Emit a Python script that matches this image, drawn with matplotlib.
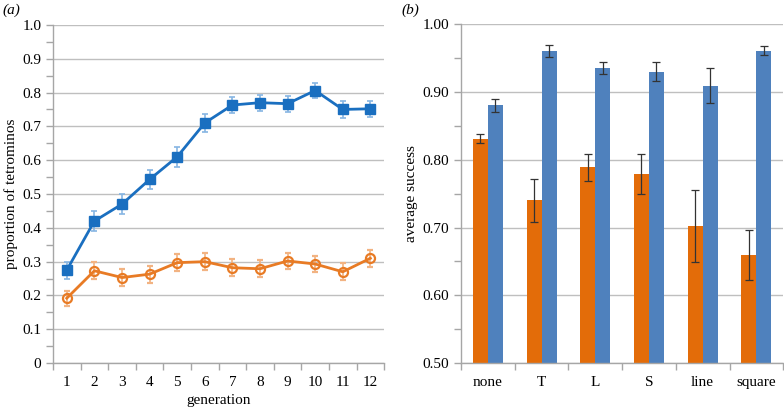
import matplotlib.pyplot as plt
import numpy as np
from matplotlib.ticker import MultipleLocator, FixedLocator, NullFormatter, FuncFormatter

plt.rcParams['font.family'] = ['Liberation Serif', 'DejaVu Serif']

# panel (a): proportion of tetrominos per generation
generations = list(range(1, 13))
blue_line = [0.275, 0.42, 0.47, 0.543, 0.61, 0.71, 0.763, 0.77, 0.767, 0.806, 0.75, 0.752]
blue_err = [0.025, 0.03, 0.03, 0.029, 0.03, 0.026, 0.024, 0.024, 0.024, 0.022, 0.024, 0.024]
orange_line = [0.192, 0.273, 0.253, 0.263, 0.297, 0.300, 0.282, 0.279, 0.302, 0.293, 0.270, 0.310]
orange_err = [0.022, 0.025, 0.025, 0.025, 0.025, 0.025, 0.025, 0.025, 0.025, 0.025, 0.025, 0.025]

# panel (b): average success per shape
shapes = ["none", "T", "L", "S", "line", "square"]
orange_bars = [0.831, 0.740, 0.789, 0.779, 0.702, 0.660]
orange_bar_err = [0.007, 0.032, 0.020, 0.030, 0.053, 0.037]
blue_bars = [0.880, 0.960, 0.935, 0.930, 0.909, 0.961]
blue_bar_err = [0.009, 0.009, 0.009, 0.014, 0.026, 0.007]

grid_c = "#bfbfbf"
tick_c = "#a6a6a6"
fs = 11

fig = plt.figure(figsize=(7.84, 4.08), dpi=100)
ax1 = fig.add_axes([0.0676, 0.110, 0.4224, 0.829])
ax2 = fig.add_axes([0.588, 0.110, 0.411, 0.831])

for ax in (ax1, ax2):
    for s in ("top", "right"):
        ax.spines[s].set_visible(False)
    for s in ("left", "bottom"):
        ax.spines[s].set_color(tick_c)
        ax.spines[s].set_linewidth(1.0)
    ax.yaxis.grid(True, color=grid_c, linewidth=1.0)
    ax.set_axisbelow(True)
    ax.tick_params(which="both", color=tick_c, labelsize=fs, length=5, width=1)
    ax.tick_params(axis="x", which="major", length=0, pad=9)
    ax.tick_params(axis="x", which="minor", length=5)

# ---- panel a
ax1.errorbar(generations, blue_line, yerr=blue_err, color="#1a6fc0", lw=2,
             marker="s", ms=7, mfc="#1a6fc0", mec="#1a6fc0",
             ecolor="#86b5e3", elinewidth=1.2, capsize=2.5, capthick=1.2, zorder=3)
ax1.errorbar(generations, orange_line, yerr=orange_err, color="#e87b25", lw=2,
             marker="o", ms=6.5, mfc="none", mec="#e87b25", mew=1.6,
             ecolor="#f2b382", elinewidth=1.2, capsize=2.5, capthick=1.2, zorder=3)
ax1.set_xlim(0.5, 12.5)
ax1.set_ylim(0, 1.0)
ax1.set_xticks(generations)
ax1.xaxis.set_minor_locator(FixedLocator(np.arange(0.5, 13, 1)))
ax1.xaxis.set_minor_formatter(NullFormatter())
ax1.yaxis.set_major_locator(MultipleLocator(0.1))
ax1.yaxis.set_minor_locator(MultipleLocator(0.05))
ax1.yaxis.set_major_formatter(FuncFormatter(lambda v, p: "0" if abs(v) < 1e-9 else "%.1f" % v))
ax1.set_xlabel("generation", fontsize=fs, labelpad=4)
ax1.set_ylabel("proportion of tetrominos", fontsize=fs, labelpad=3)

# ---- panel b
x = np.arange(len(shapes))
w = 0.28
err_kw = dict(ecolor="#333333", elinewidth=0.9, capsize=3, capthick=0.9)
ax2.bar(x - w / 2, orange_bars, w, yerr=orange_bar_err, color="#e36c09",
        error_kw=err_kw, zorder=2)
ax2.bar(x + w / 2, blue_bars, w, yerr=blue_bar_err, color="#4f81bd",
        error_kw=err_kw, zorder=2)
ax2.set_xlim(-0.5, len(shapes) - 0.5)
ax2.set_ylim(0.5, 1.0)
ax2.set_xticks(x)
ax2.set_xticklabels(shapes)
ax2.xaxis.set_minor_locator(FixedLocator(np.arange(-0.5, len(shapes), 1)))
ax2.xaxis.set_minor_formatter(NullFormatter())
ax2.yaxis.set_major_locator(MultipleLocator(0.1))
ax2.yaxis.set_minor_locator(MultipleLocator(0.05))
ax2.yaxis.set_major_formatter(plt.FormatStrFormatter("%.2f"))
ax2.set_ylabel("average success", fontsize=fs, labelpad=3)

fig.text(0.003, 0.975, "(a)", fontsize=fs, style="italic", va="center")
fig.text(0.512, 0.975, "(b)", fontsize=fs, style="italic", va="center")

fig.savefig("out.png", dpi=100)
